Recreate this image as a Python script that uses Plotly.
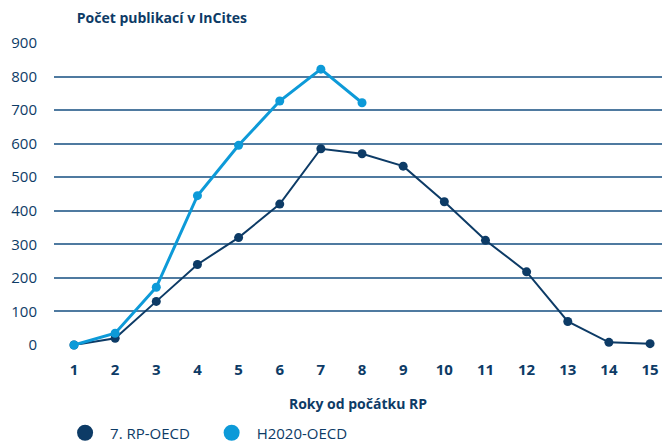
import plotly.graph_objects as go

years = list(range(1, 16))
rp7 = [0, 20, 130, 240, 320, 420, 585, 570, 533, 427, 312, 218, 70, 8, 4]
h2020_years = list(range(1, 9))
h2020 = [0, 35, 172, 445, 595, 727, 822, 722]

y_ticks = [0, 100, 200, 300, 400, 500, 600, 700, 800, 900]

NAVY = "#0d3b66"
LIGHT = "#0d9ad8"
FONT = "Open Sans"

fig = go.Figure()
fig.add_trace(go.Scatter(x=years, y=rp7, mode="lines+markers", name="7. RP-OECD",
                         line=dict(color=NAVY, width=2), marker=dict(size=9, color=NAVY),
                         showlegend=False, cliponaxis=False))
fig.add_trace(go.Scatter(x=h2020_years, y=h2020, mode="lines+markers", name="H2020-OECD",
                         line=dict(color=LIGHT, width=3), marker=dict(size=9, color=LIGHT),
                         showlegend=False, cliponaxis=False))
# legend entries (circle only)
fig.add_trace(go.Scatter(x=[None], y=[None], mode="markers", name="7. RP-OECD   ",
                         marker=dict(size=18, color=NAVY)))
fig.add_trace(go.Scatter(x=[None], y=[None], mode="markers", name="H2020-OECD",
                         marker=dict(size=18, color=LIGHT)))

fig.update_layout(
    width=662, height=442,
    margin=dict(l=54, r=0, t=43, b=97),
    paper_bgcolor="white", plot_bgcolor="white",
    font=dict(family=FONT, color=NAVY, size=14),
    title=dict(text="<b>Počet publikací v InCites</b>", x=0.116, xanchor="left",
               y=0.959, yanchor="middle", font=dict(size=14, color=NAVY, family=FONT)),
    xaxis=dict(range=[0.514, 15.29], tickmode="array", tickvals=years,
               ticktext=[f"<b>{v}</b>" for v in years], showgrid=False, zeroline=False,
               showline=False, ticks="", ticklabelstandoff=14, tickfont=dict(size=15, color=NAVY),
               automargin=False,
               title=dict(text="<b>Roky od počátku RP</b>", font=dict(size=14, color=NAVY), standoff=21)),
    yaxis=dict(range=[0, 900], tickmode="array", tickvals=y_ticks, showgrid=True,
               gridcolor="#4f7aa0", gridwidth=1.5, zeroline=False, showline=False,
               ticks="", ticklabelstandoff=16, automargin=False,
               tickfont=dict(size=15, color=NAVY)),
    legend=dict(orientation="h", x=0.01, xref="paper", y=0.0204, yref="container",
                xanchor="left", yanchor="middle",
                font=dict(size=15, color=NAVY), itemsizing="trace", tracegroupgap=0,
                itemwidth=40),
)
fig.write_html("out.html", config={"displayModeBar": False},
               post_script="document.body.style.margin='0';document.body.style.overflow='hidden';")
